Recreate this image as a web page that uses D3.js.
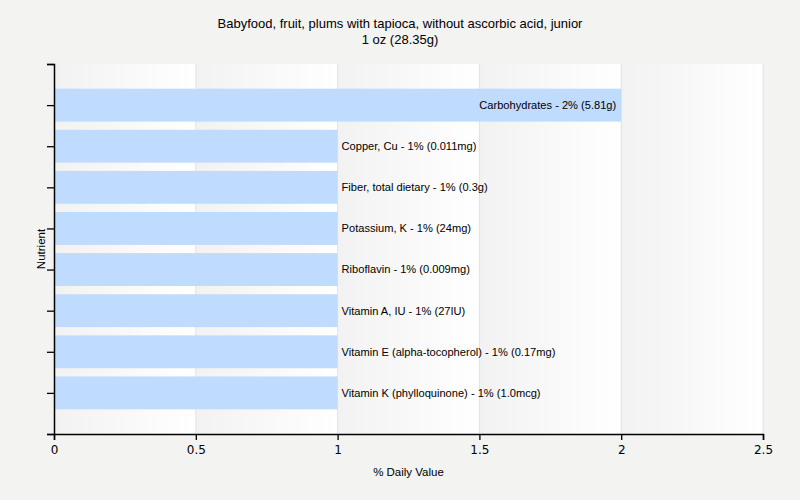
<!DOCTYPE html>
<html>
<head>
<meta charset="utf-8">
<script src="https://cdn.jsdelivr.net/npm/d3@7"></script>
<style>
  body { margin: 0; background: #f3f3f2; }
  text { font-family: "Liberation Sans", Arial, sans-serif; fill: #000; }
</style>
</head>
<body>
<div id="chart"></div>
<script>
const nutrients = [
    "Carbohydrates",
    "Copper, Cu",
    "Fiber, total dietary",
    "Potassium, K",
    "Riboflavin",
    "Vitamin A, IU",
    "Vitamin E (alpha-tocopherol)",
    "Vitamin K (phylloquinone)"
];
const values = [2, 1, 1, 1, 1, 1, 1, 1];
const amounts = ["5.81g", "0.011mg", "0.3g", "24mg", "0.009mg", "27IU", "0.17mg", "1.0mcg"];
const xTicks = [0, 0.5, 1, 1.5, 2, 2.5];

const W = 800, H = 500;
const margin = { top: 64, right: 37, bottom: 66, left: 54 };
const width = W - margin.left - margin.right;
const height = H - margin.top - margin.bottom;

const svg = d3.select("#chart").append("svg")
    .attr("width", W)
    .attr("height", H);

const defs = svg.append("defs");
const grad = defs.append("linearGradient")
    .attr("id", "band")
    .attr("x1", 0).attr("x2", 1).attr("y1", 0).attr("y2", 0);
grad.append("stop").attr("offset", "0%").attr("stop-color", "#f2f2f2");
grad.append("stop").attr("offset", "100%").attr("stop-color", "#ffffff");

const x = d3.scaleLinear().domain([0, 2.5]).range([0, width]);
const y = d3.scaleLinear().domain([0, nutrients.length + 1]).range([0, height]);
const barH = y(0.8) - y(0);

const g = svg.append("g")
    .attr("transform", `translate(${margin.left},${margin.top})`);

// background bands
g.selectAll(".band")
    .data(xTicks.slice(0, -1))
    .enter().append("rect")
    .attr("x", d => x(d))
    .attr("y", 0)
    .attr("width", d => x(d + 0.5) - x(d))
    .attr("height", height)
    .attr("fill", "url(#band)");

// grid lines
g.selectAll(".grid")
    .data(xTicks.slice(1))
    .enter().append("line")
    .attr("x1", d => x(d)).attr("x2", d => x(d))
    .attr("y1", 0).attr("y2", height)
    .attr("stroke", "#e3e3e3");

// bars
g.selectAll(".bar")
    .data(nutrients)
    .enter().append("rect")
    .attr("x", 0)
    .attr("y", (d, i) => y(i + 1) - barH / 2)
    .attr("width", (d, i) => x(values[i]))
    .attr("height", barH)
    .attr("fill", "#bfdbfe");

// labels
g.selectAll(".lbl")
    .data(nutrients)
    .enter().append("text")
    .attr("x", (d, i) => values[i] >= 2 ? x(values[i]) - 5 : x(values[i]) + 4)
    .attr("y", (d, i) => y(i + 1))
    .attr("dy", "0.35em")
    .attr("text-anchor", (d, i) => values[i] >= 2 ? "end" : "start")
    .style("font-size", "11.1px")
    .text((d, i) => `${d} - ${values[i]}% (${amounts[i]})`);

// axes
const xAxis = g.append("g")
    .attr("transform", `translate(0,${height})`)
    .call(d3.axisBottom(x).tickValues(xTicks).tickSize(6).tickFormat(d3.format("")));
xAxis.selectAll("text").attr("dy", "0.9em")
    .style("font-family", "'DejaVu Sans', Verdana, sans-serif").style("font-size", "12px");

g.append("g")
    .call(d3.axisLeft(y).tickValues(d3.range(0, nutrients.length + 2)).tickSize(7).tickFormat(""));

svg.selectAll(".domain").attr("stroke", "#000").attr("stroke-width", 1.5);
svg.selectAll(".tick line").attr("stroke", "#000").attr("stroke-width", 1.3);

// titles
svg.append("text")
    .attr("x", W / 2).attr("y", 28)
    .attr("text-anchor", "middle")
    .style("font-size", "13px")
    .text("Babyfood, fruit, plums with tapioca, without ascorbic acid, junior");
svg.append("text")
    .attr("x", W / 2).attr("y", 44)
    .attr("text-anchor", "middle")
    .style("font-size", "13px")
    .text("1 oz (28.35g)");

svg.append("text")
    .attr("x", margin.left + width / 2).attr("y", 476)
    .attr("text-anchor", "middle")
    .style("font-size", "11.5px")
    .text("% Daily Value");

svg.append("text")
    .attr("transform", `translate(45,${margin.top + height / 2}) rotate(-90)`)
    .attr("text-anchor", "middle")
    .style("font-size", "11.5px")
    .text("Nutrient");
</script>
</body>
</html>
